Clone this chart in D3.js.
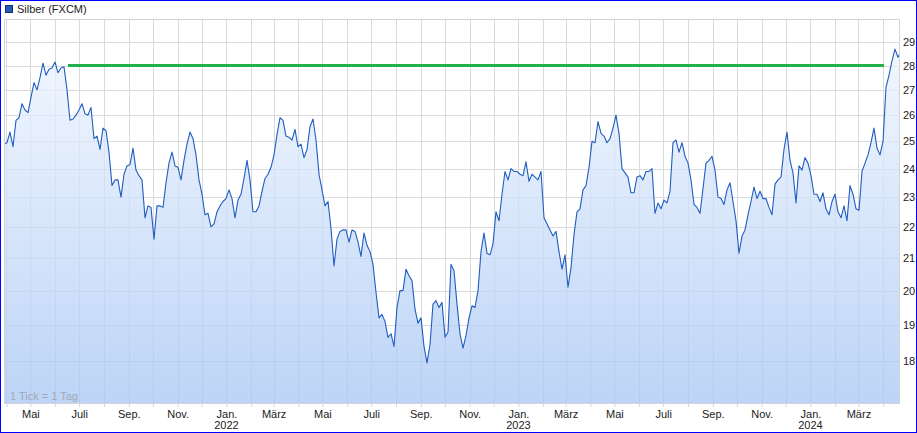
<!DOCTYPE html>
<html>
<head>
<meta charset="utf-8">
<script src="https://cdn.jsdelivr.net/npm/d3@7"></script>
<style>
	body { margin: 0; background: #fff; }
	svg { display: block; font-family: "Liberation Sans", Arial, sans-serif; }
</style>
</head>
<body>
<script>
(function() {

	// series: silver close, one sample every few trading days
	var seriesName = "Silber (FXCM)";
	var firstDate = "2021-03-29";
	var stepDays = 3.75;
	var silver = [
		24.9, 24.95, 25.35, 24.8, 25.8, 25.9, 26.45, 26.2, 26.1, 26.7, 27.3, 27.0, 27.5, 28.1, 27.6, 27.85, 27.9, 28.15, 27.7, 27.9,
		27.95, 27.0, 25.8, 25.85, 26.0, 26.2, 26.45, 26.05, 26.0, 26.3, 25.1, 25.2, 24.7, 25.5, 25.4, 24.6, 23.4, 23.6,
		23.6, 23.0, 23.8, 24.1, 24.15, 24.75, 23.95, 23.75, 23.6, 22.3, 22.7, 22.65, 21.6, 22.7, 22.7, 22.65, 23.5, 24.2, 24.6, 24.1,
		24.05, 23.6, 24.3, 24.9, 25.35, 25.1, 24.5, 23.6, 23.1, 22.4, 22.45, 22.0, 22.1, 22.5, 22.7, 22.85, 22.95, 23.25,
		22.95, 22.3, 22.9, 23.1, 23.65, 24.3, 23.6, 22.5, 22.5, 22.7, 23.2, 23.65, 23.8, 24.05, 24.5, 25.25, 25.9, 25.8, 25.2, 25.15,
		25.05, 25.45, 24.8, 24.9, 24.4, 24.7, 25.55, 25.85, 25.05, 23.8, 23.25, 22.7, 22.85, 21.95, 20.75, 21.6, 21.85,
		21.9, 21.9, 21.5, 21.9, 21.85, 21.5, 21.05, 21.8, 21.4, 21.2, 20.8, 19.95, 19.2, 19.3, 19.1, 18.65, 18.75, 18.4, 19.5, 20.0,
		20.0, 20.65, 20.45, 20.3, 19.45, 19.05, 19.2, 18.4, 17.95, 18.45, 19.6, 19.7, 19.5, 19.65, 18.65, 18.8, 20.8,
		20.6, 19.6, 18.75, 18.35, 18.7, 19.2, 19.55, 19.5, 20.0, 21.2, 21.8, 21.15, 21.1, 21.45, 22.5, 22.2, 23.1, 23.9, 23.6, 24.0,
		23.9, 23.9, 23.8, 23.75, 24.25, 23.55, 23.8, 23.7, 23.6, 23.9, 22.3, 22.1, 21.9, 21.7, 21.85, 21.2, 20.65, 21.1,
		20.1, 20.7, 21.75, 22.5, 22.6, 23.25, 23.4, 24.05, 25.0, 24.95, 25.75, 25.3, 25.2, 24.95, 25.1, 25.5, 26.0, 25.3, 24.0, 23.85,
		23.7, 23.15, 23.15, 23.7, 23.75, 23.6, 23.9, 23.9, 24.0, 22.45, 22.8, 22.6, 22.9, 22.8, 23.2, 24.95, 25.05,
		24.6, 24.95, 24.45, 24.2, 23.6, 22.75, 22.65, 22.45, 23.3, 24.2, 24.3, 24.45, 23.95, 23.0, 22.95, 22.75, 23.25, 23.5, 22.85, 22.2,
		21.15, 21.7, 21.9, 22.4, 22.85, 23.35, 22.95, 23.2, 22.95, 22.95, 22.65, 22.4, 23.45, 23.6, 23.7, 24.7, 25.35,
		24.3, 23.85, 22.8, 24.1, 23.95, 24.4, 24.2, 23.75, 23.1, 23.1, 22.85, 23.15, 22.6, 22.4, 22.85, 23.1, 22.5, 22.3, 22.7, 22.2,
		23.4, 23.1, 22.6, 22.55, 23.9, 24.2, 24.5, 24.95, 25.5, 24.75, 24.5, 25.0, 27.1, 27.6, 28.2, 28.7, 28.35, 28.6
	];

	// horizontal resistance line (green)
	var resistance = { from: "2021-06-17", to: "2024-04-02", level: 28 };

	// axis labels
	var yTicks = [18, 19, 20, 21, 22, 23, 24, 25, 26, 27, 28, 29];
	var yDomain = [16.88, 30.02];
	var monthNames = ["Jan.", "Feb.", "März", "Apr.", "Mai", "Juni", "Juli", "Aug.", "Sep.", "Okt.", "Nov.", "Dez."];
	var labelledMonths = [0, 2, 4, 6, 8, 10];
	var footNote = "1 Tick = 1 Tag";


	var W = 917, H = 433;
	var plot = { left: 4, right: 900, top: 19, bottom: 404 };

	var parse = d3.timeParse("%Y-%m-%d");
	var start = parse(firstDate);

	var data = silver.map(function(v, i) {
		return { date: new Date(start.getTime() + i * stepDays * 864e5), close: v };
	});

	var svg = d3.select("body").append("svg")
		.attr("width", W)
		.attr("height", H);

	var defs = svg.append("defs");
	var grad = defs.append("linearGradient")
		.attr("id", "areaFill")
		.attr("gradientUnits", "userSpaceOnUse")
		.attr("x1", 0).attr("x2", 0)
		.attr("y1", plot.top).attr("y2", plot.bottom);
	grad.append("stop").attr("offset", "0%").attr("stop-color", "#f4f8ff").attr("stop-opacity", 0.75);
	grad.append("stop").attr("offset", "100%").attr("stop-color", "#a6c6f4").attr("stop-opacity", 0.75);

	defs.append("clipPath").attr("id", "plotClip")
		.append("rect")
		.attr("x", plot.left).attr("y", plot.top)
		.attr("width", plot.right - plot.left).attr("height", plot.bottom - plot.top);

	// scales
	var x = d3.scaleTime()
		.domain(d3.extent(data, function(d) { return d.date; }))
		.range([plot.left, plot.right + 1]);

	var y = d3.scaleLog()
		.domain(yDomain)
		.range([plot.bottom, plot.top]);

	var months = d3.timeMonth.range(d3.timeMonth.ceil(x.domain()[0]), x.domain()[1]);

	// plot background
	svg.append("rect")
		.attr("x", plot.left).attr("y", plot.top)
		.attr("width", plot.right - plot.left).attr("height", plot.bottom - plot.top)
		.attr("fill", "#fff");

	// grid
	var grid = svg.append("g").attr("class", "grid");
	grid.selectAll("line.v")
		.data(months)
		.enter().append("line")
		.attr("class", "v")
		.attr("x1", function(d) { return Math.round(x(d)) + 0.5; })
		.attr("x2", function(d) { return Math.round(x(d)) + 0.5; })
		.attr("y1", plot.top).attr("y2", plot.bottom)
		.attr("stroke", "#dadada");
	grid.selectAll("line.h")
		.data(yTicks)
		.enter().append("line")
		.attr("class", "h")
		.attr("x1", plot.left).attr("x2", plot.right)
		.attr("y1", function(d) { return Math.round(y(d)) + 0.5; })
		.attr("y2", function(d) { return Math.round(y(d)) + 0.5; })
		.attr("stroke", "#dadada");

	// area + line
	var area = d3.area()
		.x(function(d) { return x(d.date); })
		.y0(plot.bottom)
		.y1(function(d) { return y(d.close); });

	var line = d3.line()
		.x(function(d) { return x(d.date); })
		.y(function(d) { return y(d.close); });

	var g = svg.append("g").attr("clip-path", "url(#plotClip)");

	g.append("path")
		.datum(data)
		.attr("d", area)
		.attr("fill", "url(#areaFill)");

	g.append("path")
		.datum(data)
		.attr("d", line)
		.attr("fill", "none")
		.attr("stroke", "#1f5dc0")
		.attr("stroke-width", 1.1)
		.attr("stroke-linejoin", "round");

	// resistance line
	svg.append("line")
		.attr("x1", x(parse(resistance.from)))
		.attr("x2", x(parse(resistance.to)))
		.attr("y1", y(resistance.level))
		.attr("y2", y(resistance.level))
		.attr("stroke", "#22b04a")
		.attr("stroke-width", 3);

	// plot frame
	svg.append("rect")
		.attr("x", plot.left + 0.5).attr("y", plot.top + 0.5)
		.attr("width", plot.right - plot.left - 1).attr("height", plot.bottom - plot.top - 1)
		.attr("fill", "none")
		.attr("stroke", "#d4d4d4");

	// x axis
	var xAxis = d3.axisBottom(x)
		.tickValues(months)
		.tickSize(3)
		.tickPadding(3)
		.tickFormat(function(d) {
			return labelledMonths.indexOf(d.getMonth()) >= 0 ? monthNames[d.getMonth()] : "";
		});

	var xg = svg.append("g")
		.attr("class", "x axis")
		.attr("transform", "translate(0," + plot.bottom + ")")
		.call(xAxis);
	xg.select(".domain").remove();
	xg.selectAll(".tick line").attr("stroke", "#d4d4d4");
	xg.selectAll(".tick text")
		.attr("fill", "#222")
		.style("font-size", "11px");

	// year labels under January
	svg.selectAll("text.year")
		.data(months.filter(function(d) { return d.getMonth() === 0; }))
		.enter().append("text")
		.attr("class", "year")
		.attr("x", function(d) { return x(d); })
		.attr("y", 429)
		.attr("text-anchor", "middle")
		.attr("fill", "#222")
		.style("font-size", "11px")
		.text(function(d) { return d.getFullYear(); });

	// y axis on the right
	var yAxis = d3.axisRight(y)
		.tickValues(yTicks)
		.tickSize(0)
		.tickPadding(3)
		.tickFormat(d3.format("d"));

	var yg = svg.append("g")
		.attr("class", "y axis")
		.attr("transform", "translate(" + plot.right + ",0)")
		.call(yAxis);
	yg.select(".domain").remove();
	yg.selectAll(".tick text")
		.attr("fill", "#222")
		.style("font-size", "11px");

	// legend
	svg.append("rect")
		.attr("x", 5.5).attr("y", 5.5)
		.attr("width", 7).attr("height", 7)
		.attr("fill", "#2359b8")
		.attr("stroke", "#13306b");
	svg.append("text")
		.attr("x", 17).attr("y", 13)
		.attr("fill", "#222")
		.style("font-size", "11px")
		.text(seriesName);

	// foot note
	svg.append("text")
		.attr("x", 10).attr("y", 400)
		.attr("fill", "#a3a9b3")
		.style("font-size", "11px")
		.text(footNote);

	// outer border
	svg.append("rect")
		.attr("x", 0.5).attr("y", 0.5)
		.attr("width", W - 1).attr("height", H - 1)
		.attr("fill", "none")
		.attr("stroke", "#0000ff");

})();
</script>
</body>
</html>
